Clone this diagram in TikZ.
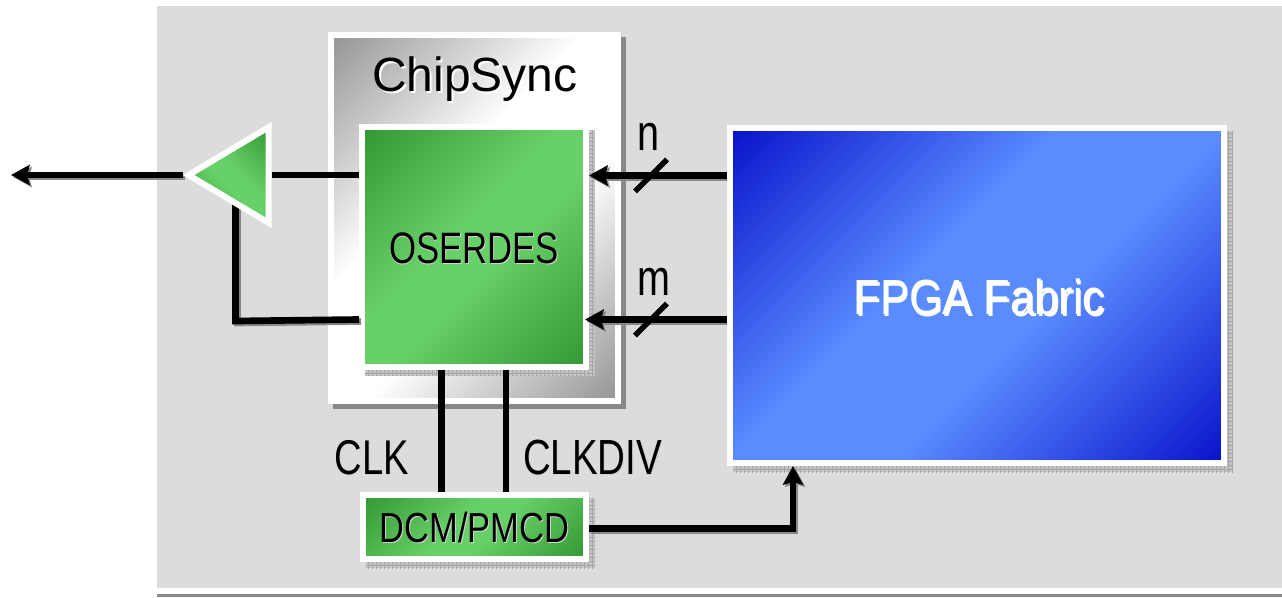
\documentclass[tikz,border=0pt]{standalone}
\usepackage{fontspec}
\setmainfont{Liberation Sans}
\usetikzlibrary{arrows.meta,shapes.geometric,patterns}
\pgfdeclarelayer{toplayer}
\pgfsetlayers{main,toplayer}
\definecolor{panelgrey}{RGB}{220,220,220}
\definecolor{shadowgrey}{RGB}{136,136,136}
\definecolor{stipplegrey}{RGB}{196,196,196}
\definecolor{greendark}{RGB}{52,152,52}
\definecolor{greenlight}{RGB}{104,208,104}
\definecolor{bluedark}{RGB}{10,20,204}
\definecolor{bluelight}{RGB}{90,140,255}
\definecolor{silverdark}{RGB}{150,150,150}
\pgfdeclarehorizontalshading{greenband}{100bp}{color(0bp)=(greendark); color(15bp)=(greendark); color(45bp)=(greenlight); color(55bp)=(greenlight); color(85bp)=(greendark); color(100bp)=(greendark)}
\pgfdeclarehorizontalshading{blueband}{100bp}{color(0bp)=(bluedark); color(15bp)=(bluedark); color(43bp)=(bluelight); color(57bp)=(bluelight); color(85bp)=(bluedark); color(100bp)=(bluedark)}
\pgfdeclarehorizontalshading{silverband}{100bp}{color(0bp)=(silverdark); color(15bp)=(silverdark); color(42bp)=(white); color(58bp)=(white); color(85bp)=(silverdark); color(100bp)=(silverdark)}
\newcommand{\softtext}[4]{\scalebox{#1}[1]{\rlap{\hspace{#3}\raisebox{-#3}{\color{#2}#4}}#4}}
%wire with its grey offset copy underneath
\newcommand{\softwire}[2]{%
  \draw[#1,shadowgrey,transform canvas={xshift=1.5pt,yshift=-1.5pt}] #2;
  \draw[#1] #2;}
\tikzset{
  every picture/.style={line width=0.75pt},
  block/.style={draw=white,line width=4.5pt,inner sep=0pt,shading angle=135},
  greenblock/.style={block,shading=greenband},
  labeltext/.style={inner sep=0pt,font=\fontsize{#1}{#1}\selectfont},
  stipple/.style={fill=stipplegrey,postaction={pattern=grid,pattern color=gray!70}},
  wire/.style={line width=5pt,line join=miter},
  busarrow/.style={wire,-{Stealth[length=14pt,width=15pt,inset=2pt]}},
  buscut/.style={line width=4pt}
}

\begin{document}
\begin{tikzpicture}[x=0.75pt,y=0.75pt,yscale=-1,xscale=1]
\useasboundingbox (0,0) rectangle (1282,597);

%Background panel and rule
\fill[panelgrey] (157,6) rectangle (1282,588);
\fill[shadowgrey] (157,594) rectangle (1282,597);

%ChipSync block
\fill[shadowgrey] (333,37) rectangle (626,409);
\node[block,shading=silverband,minimum width=215.25pt,minimum height=274.5pt] (chipsync) at (474.5,218) {};
\node[labeltext=36pt] (chipsynclabel) at (475,80) {\softtext{1}{white}{1.5pt}{ChipSync}};

%OSERDES
\fill[stipple] (365,130) rectangle (594.5,375.5);
\node[greenblock,minimum width=168pt,minimum height=180pt] (oserdes) at (474,247) {};
\node[labeltext=33pt] (oserdeslabel) at (474,249) {\softtext{.79}{gray!35}{.8pt}{OSERDES}};

%FPGA fabric
\fill[stipple] (733,131) rectangle (1233,472);

%DCM
\fill[stipple] (366,498) rectangle (595,568);
\node[greenblock,minimum width=167.25pt,minimum height=48pt] (dcm) at (474.5,527) {};
\node[labeltext=31.5pt] (dcmlabel) at (474.5,528) {\softtext{.82}{gray!35}{.8pt}{DCM/PMCD}};

%Output buffer and fabric, kept above the wires
\begin{pgfonlayer}{toplayer}
\node[greenblock,shading angle=45,shape=isosceles triangle,shape border rotate=180,isosceles triangle stretches,isosceles triangle apex angle=60,minimum width=71.6pt,minimum height=60pt,anchor=lower side,line join=miter] (buffer) at (271.5,175) {};
\node[block,shading=blueband,minimum width=370.5pt,minimum height=251.25pt] (fpga) at (977,295.5) {};
\node[labeltext=37pt] (fpgalabel) at (979,298) {\softtext{.88}{black}{1.5pt}{\color{white}FPGA Fabric}};
\end{pgfonlayer}

%Free ends and pin positions
\coordinate (padout) at (11,175);
\coordinate (mbus) at (651,319.5);
\coordinate (nbus) at (651,175.5);
\coordinate (feedin) at (359,319.5);
\coordinate (feedbend) at (235.5,321);
\coordinate (clkpin) at (441.5,430);
\coordinate (divpin) at (506,430);
\coordinate (dcmout) at (589,528.5);
\coordinate (fabricpin) at (793,466);

%Wires
\softwire{busarrow}{(buffer.apex) -- (padout)}
\draw[wire] (oserdes.west |- buffer.lower side) -- (buffer.lower side);
\softwire{wire}{(oserdes.west |- feedin) -- (feedbend) -- (feedbend |- buffer.lower side)}
\softwire{busarrow}{(fpga.west |- nbus) -- (oserdes.east |- nbus)}
\softwire{busarrow}{(fpga.west |- mbus) -- ([xshift=-3pt]oserdes.east |- mbus)}
\draw[wire] (clkpin |- oserdes.south) -- (clkpin |- dcm.north);
\draw[wire] (divpin |- oserdes.south) -- (divpin |- dcm.north);
\softwire{busarrow}{(dcmout) -| (fabricpin)}

%Bus width marks
\draw[buscut] ([shift={(-16,16)}]nbus) -- ([shift={(16,-16)}]nbus);
\draw[buscut] ([shift={(-16,16)}]mbus) -- ([shift={(16,-16)}]mbus);

% Text Node
\node[labeltext=38pt] (nlabel) at (648.5,137) {\softtext{.78}{gray!35}{.8pt}{n}};
\node[labeltext=38pt] (mlabel) at (653.5,282) {\softtext{.78}{gray!35}{.8pt}{m}};
\node[labeltext=36.6pt] (clklabel) at (372,458) {\softtext{.78}{gray!35}{.8pt}{CLK}};
\node[labeltext=37pt] (clkdivlabel) at (592.5,458) {\softtext{.78}{gray!35}{.8pt}{CLKDIV}};

\end{tikzpicture}
\end{document}
